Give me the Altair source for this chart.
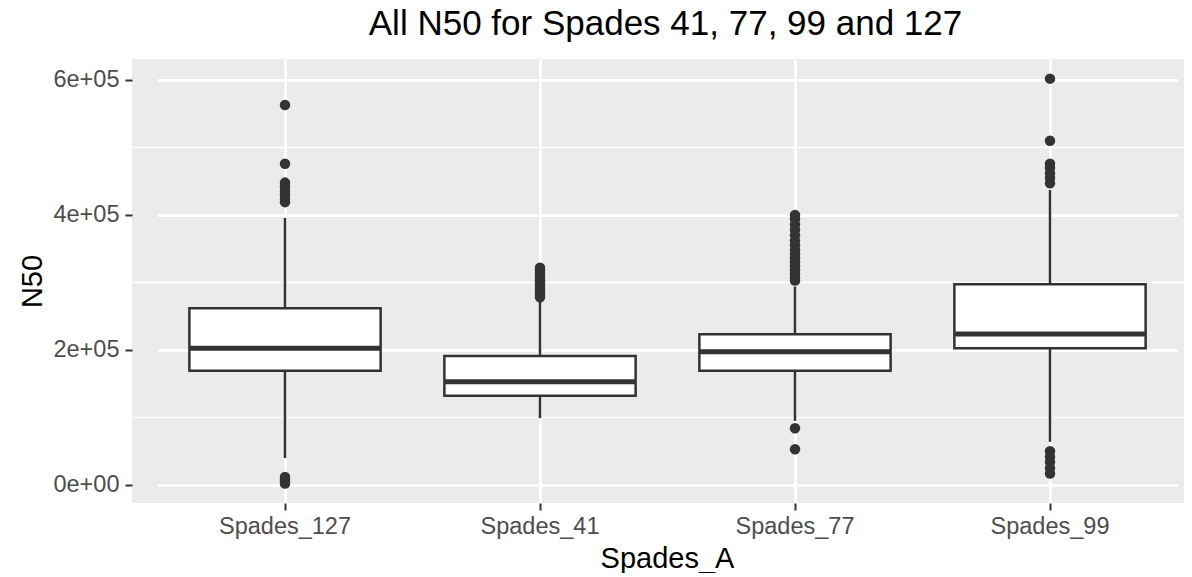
import altair as alt
import pandas as pd

# ---- data ----
categories = ["Spades_127", "Spades_41", "Spades_77", "Spades_99"]
lower_whisker = [40000, 99000, 95000, 64000]
q1 = [169300, 132300, 169300, 202500]
median = [202500, 153000, 197500, 223700]
q3 = [261800, 191100, 223300, 297300]
upper_whisker = [395600, 276000, 294000, 437000]

outliers_127 = [563000, 476000, 448000, 442000, 436000, 430000, 424000, 419000,
                12000, 8000, 5000, 2000]
outliers_41 = [278000, 282000, 286000, 290000, 294000, 298000, 302000, 306000,
               310000, 314000, 318000, 322000]
outliers_77 = [303000, 307000, 312000, 318000, 324000, 330000, 336000, 342000,
               348000, 355000, 362000, 370000, 378000, 386000, 394000, 400000,
               84000, 53000]
outliers_99 = [602000, 510000, 476000, 470000, 462000, 455000, 447000,
               50000, 42000, 34000, 25000, 17000]

y_tick_values = [0, 200000, 400000, 600000]
y_tick_labels = ["0e+00", "2e+05", "4e+05", "6e+05"]
y_minor_values = [100000, 300000, 500000]

title_text = "All N50 for Spades 41, 77, 99 and 127"
x_title = "Spades_A"
y_title = "N50"

# ---- tables ----
stats = pd.DataFrame({
    "cat": categories, "lo": lower_whisker, "q1": q1, "med": median,
    "q3": q3, "hi": upper_whisker,
})
out_rows = []
for c, vals in zip(categories, [outliers_127, outliers_41, outliers_77, outliers_99]):
    for v in vals:
        out_rows.append({"cat": c, "val": v})
outs = pd.DataFrame(out_rows)
minor = pd.DataFrame({"v": y_minor_values})
title_df = pd.DataFrame({"t": [title_text]})

FONT = "Liberation Sans, Arial, Helvetica, sans-serif"
DARK = "#333333"

label_expr = "[" + ",".join(f"'{l}'" for l in y_tick_labels) + "][indexof([" + \
    ",".join(str(v) for v in y_tick_values) + "], datum.value)]"

x_scale = alt.Scale(type="band", domain=categories, range=[25.5, 1045.5],
                    paddingInner=0, paddingOuter=0)
y_scale = alt.Scale(domain=[-26700, 631100], nice=False, zero=False)

x_axis = alt.Axis(
    title=x_title, grid=True, gridColor="white", gridWidth=3, domain=False,
    tickColor=DARK, tickWidth=2, tickSize=7, labelPadding=4,
    labelFont=FONT, labelFontSize=23.5, labelColor="#4D4D4D", labelAngle=0,
    titleFont=FONT, titleFontSize=29, titleColor="black", titleFontWeight="normal",
    titleX=535, titleY=64, titleAlign="center", titleBaseline="alphabetic",
)
y_axis = alt.Axis(
    title=y_title, values=y_tick_values, labelExpr=label_expr,
    grid=True, gridColor="white", gridWidth=3, domain=False,
    tickColor=DARK, tickWidth=2, tickSize=7, labelPadding=6,
    labelFont=FONT, labelFontSize=23.5, labelColor="#4D4D4D",
    titleFont=FONT, titleFontSize=29, titleColor="black", titleFontWeight="normal",
    titleX=-100, titleY=222, titleAngle=270, titleAlign="center", titleBaseline="middle",
)

X = alt.X("cat:N", scale=x_scale, axis=x_axis, sort=categories)

minor_grid = alt.Chart(minor).mark_rule(color="white", strokeWidth=1.5).encode(
    y=alt.Y("v:Q", scale=y_scale, axis=y_axis)
)

whisk_hi = alt.Chart(stats).mark_rule(color=DARK, strokeWidth=2.5).encode(
    x=X, y=alt.Y("q3:Q", scale=y_scale, axis=y_axis), y2="hi:Q"
)
whisk_lo = alt.Chart(stats).mark_rule(color=DARK, strokeWidth=2.5).encode(
    x=X, y=alt.Y("lo:Q", scale=y_scale, axis=y_axis), y2="q1:Q"
)
boxes = alt.Chart(stats).mark_bar(
    fill="white", stroke=DARK, strokeWidth=2.5, width=alt.RelativeBandSize(0.75)
).encode(
    x=X, y=alt.Y("q1:Q", scale=y_scale, axis=y_axis), y2="q3:Q"
)
medians = alt.Chart(stats).mark_tick(
    color=DARK, thickness=5, size=191, opacity=1
).encode(
    x=X, y=alt.Y("med:Q", scale=y_scale, axis=y_axis)
)
points = alt.Chart(outs).mark_circle(color=DARK, size=110, opacity=1).encode(
    x=X, y=alt.Y("val:Q", scale=y_scale, axis=y_axis)
)
title_mark = alt.Chart(title_df).mark_text(
    font=FONT, fontSize=35, color="black", align="center", baseline="alphabetic"
).encode(
    text="t:N", x=alt.value(533.5), y=alt.value(-24)
)

chart = alt.layer(minor_grid, whisk_hi, whisk_lo, boxes, medians, points, title_mark).properties(
    width=1052, height=444,
    autosize=alt.AutoSizeParams(type="none"),
    padding={"left": 124, "top": 51, "right": 0, "bottom": 70},
).configure(background="white").configure_view(fill="#EBEBEB", strokeWidth=0)

chart.save("out.html", embed_options={"renderer": "svg", "actions": False})
